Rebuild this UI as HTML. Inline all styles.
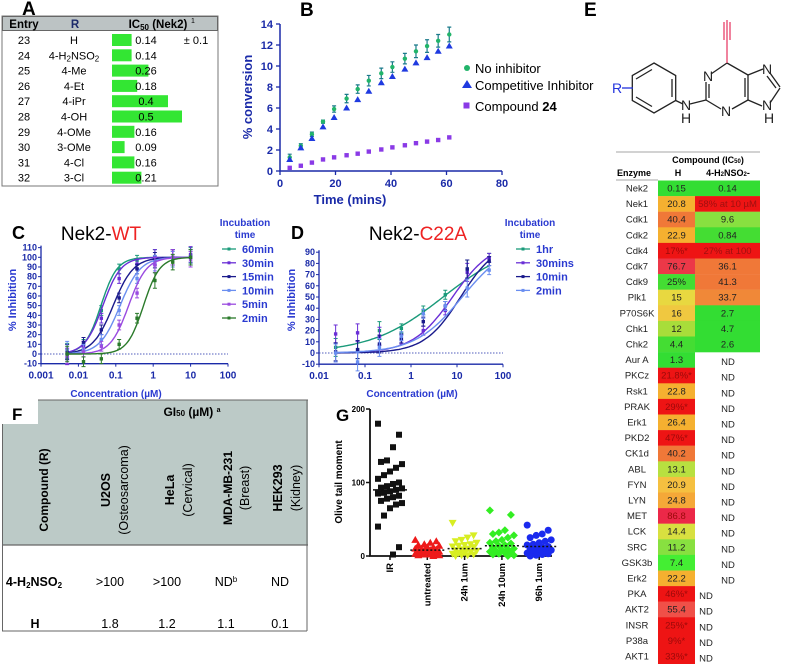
<!DOCTYPE html>
<html><head><meta charset="utf-8"><style>
html,body{margin:0;padding:0;background:#fff;}
svg{display:block;font-family:"Liberation Sans",sans-serif;}
</style></head><body>
<svg id="fig" width="788" height="664" viewBox="0 0 788 664" xmlns="http://www.w3.org/2000/svg">
<text x="22" y="15" font-size="19" font-weight="bold">A</text>
<text x="300" y="16" font-size="19" font-weight="bold">B</text>
<text x="12" y="239" font-size="18" font-weight="bold">C</text>
<text x="291" y="239" font-size="18" font-weight="bold">D</text>
<text x="584" y="16" font-size="19" font-weight="bold">E</text>
<text x="336" y="421" font-size="17" font-weight="bold">G</text>

<g>
<rect x="2" y="16" width="216" height="170" fill="#fff" stroke="#777" stroke-width="1"/>
<rect x="2.5" y="16.5" width="215" height="14" fill="#bcc3c4" stroke="#666"/>
<text x="24" y="28" font-size="11.5" font-weight="bold" text-anchor="middle">Entry</text>
<text x="75" y="28" font-size="11.5" font-weight="bold" text-anchor="middle" fill="#1c2a6a">R</text>
<text x="158" y="28" font-size="11.5" font-weight="bold" text-anchor="middle">IC<tspan font-size="8" dy="2">50</tspan><tspan dy="-2"> (Nek2)</tspan></text>
<text x="191" y="23" font-size="7">1</text>
<text x="196" y="44" font-size="11" text-anchor="middle">± 0.1</text>
<g id="aRows"></g>
</g>

<g id="panelB"></g>
<g id="panelC"></g>
<g id="panelD"></g>

<g stroke="#222" stroke-width="1.3" fill="none">
<polygon points="654,63 675.7,75.5 675.7,100.5 654,113 632.3,100.5 632.3,75.5"/>
<line x1="636" y1="79" x2="652" y2="69.5"/><line x1="672" y1="79" x2="672" y2="97"/><line x1="636" y1="97" x2="652" y2="106.5"/>
<line x1="675.7" y1="100.5" x2="683" y2="104"/>
<line x1="690" y1="104" x2="706" y2="100"/>
<line x1="706" y1="100" x2="706" y2="82"/><line x1="709" y1="98" x2="709" y2="84"/>
<line x1="711" y1="74" x2="727" y2="63"/>
<line x1="727" y1="63" x2="748" y2="75"/>
<line x1="748" y1="75" x2="748" y2="100"/><line x1="745" y1="78" x2="745" y2="97"/>
<line x1="748" y1="100" x2="732" y2="109"/>
<line x1="706" y1="100" x2="721" y2="109"/>
<line x1="748" y1="75" x2="763" y2="69"/>
<line x1="770" y1="73" x2="780" y2="87"/><line x1="767" y1="76" x2="776" y2="88"/>
<line x1="780" y1="88" x2="770" y2="103"/>
<line x1="748" y1="100" x2="762" y2="106"/>
<line x1="622" y1="88" x2="633" y2="88" stroke="#2233dd"/>
<line x1="727" y1="63" x2="727" y2="20" stroke="#e8406a"/>
<line x1="724" y1="22" x2="724" y2="40" stroke="#e8406a"/><line x1="730" y1="22" x2="730" y2="40" stroke="#e8406a"/>
</g>
<g font-size="14" fill="#222">
<text x="612" y="93" fill="#2233dd">R</text>
<text x="681" y="110">N</text><text x="681" y="123">H</text>
<text x="703" y="81">N</text><text x="721" y="116">N</text>
<text x="762" y="74">N</text><text x="762" y="110">N</text><text x="764" y="123">H</text>
</g>

<g id="tableE">
<line x1="616" y1="152" x2="760" y2="152" stroke="#888" stroke-width="0.8"/>
<text x="708" y="163" font-size="9" font-weight="bold" text-anchor="middle">Compound (IC<tspan font-size="6">50</tspan>)</text>
<text x="634" y="176" font-size="9" font-weight="bold" text-anchor="middle">Enzyme</text>
<text x="678" y="176" font-size="9" font-weight="bold" text-anchor="middle">H</text>
<text x="728" y="176" font-size="9" font-weight="bold" text-anchor="middle">4-H<tspan font-size="6">2</tspan>NSO<tspan font-size="6">2</tspan>-</text>
<line x1="616" y1="180" x2="658" y2="180" stroke="#888" stroke-width="0.8"/>
</g>

<g>
<rect x="38" y="400" width="270" height="25" fill="#bccac7"/>
<rect x="2" y="424" width="306" height="121" fill="#bccac7"/>
<line x1="2" y1="545" x2="308" y2="545" stroke="#666" stroke-width="1.2"/>
<line x1="2.5" y1="424" x2="2.5" y2="631" stroke="#666"/>
<line x1="307" y1="400" x2="307" y2="631" stroke="#666"/>
<line x1="2" y1="631" x2="307" y2="631" stroke="#666"/>
<line x1="38" y1="400" x2="308" y2="400" stroke="#666"/>
<text x="12" y="420" font-size="17" font-weight="bold">F</text>
<text x="192" y="416" font-size="12" font-weight="bold" text-anchor="middle">GI<tspan font-size="8">50</tspan> (µM) <tspan font-size="7" dy="-4">a</tspan></text>
<text transform="translate(48,490) rotate(-90)" font-size="12" font-weight="bold" text-anchor="middle">Compound (R)</text>
<text transform="translate(110,490) rotate(-90)" font-size="12.5" font-weight="bold" text-anchor="middle">U2OS</text>
<text transform="translate(128,490) rotate(-90)" font-size="12.5" text-anchor="middle">(Osteosarcoma)</text>
<text transform="translate(174,490) rotate(-90)" font-size="12.5" font-weight="bold" text-anchor="middle">HeLa</text>
<text transform="translate(192,490) rotate(-90)" font-size="12.5" text-anchor="middle">(Cervical)</text>
<text transform="translate(232,488) rotate(-90)" font-size="12" font-weight="bold" text-anchor="middle">MDA-MB-231</text>
<text transform="translate(249,488) rotate(-90)" font-size="12.5" text-anchor="middle">(Breast)</text>
<text transform="translate(282,488) rotate(-90)" font-size="12.5" font-weight="bold" text-anchor="middle">HEK293</text>
<text transform="translate(300,488) rotate(-90)" font-size="12.5" text-anchor="middle">(Kidney)</text>
<g font-size="12.5" text-anchor="middle">
<text x="34" y="586" font-weight="bold">4-H<tspan font-size="8" dy="2">2</tspan><tspan dy="-2">NSO</tspan><tspan font-size="8" dy="2">2</tspan></text>
<text x="110" y="586">&gt;100</text>
<text x="167" y="586">&gt;100</text>
<text x="226" y="586">ND<tspan font-size="8" dy="-4">b</tspan></text>
<text x="280" y="586">ND</text>
<text x="35" y="628" font-weight="bold">H</text>
<text x="110" y="628">1.8</text>
<text x="167" y="628">1.2</text>
<text x="226" y="628">1.1</text>
<text x="280" y="628">0.1</text>
</g>
</g>

<g id="panelG"></g>
</svg>
<script>
const NS="http://www.w3.org/2000/svg";
function mk(tag,attrs,parent,txt){const e=document.createElementNS(NS,tag);for(const k in attrs)e.setAttribute(k,attrs[k]);if(txt!==undefined)e.textContent=txt;parent.appendChild(e);return e;}

const aEntries=["23","24","25","26","27","28","29","30","31","32"];
const aR=["H","4-H2NSO2","4-Me","4-Et","4-iPr","4-OH","4-OMe","3-OMe","4-Cl","3-Cl"];
const aVals=[0.14,0.14,0.26,0.18,0.4,0.5,0.16,0.09,0.16,0.21];
const aLabels=["0.14","0.14","0.26","0.18","0.4","0.5","0.16","0.09","0.16","0.21"];

const bTimes=[3.5,7.5,11.5,15.5,19.5,24,28,32,36.5,40.5,45,49,53,57,61];
const bNoInh=[1.3,2.4,3.5,4.7,5.9,6.9,7.8,8.6,9.3,9.9,10.7,11.4,11.9,12.4,13.0];
const bNoInhErr=[0.3,0.2,0.2,0.15,0.3,0.4,0.4,0.5,0.5,0.5,0.5,0.6,0.6,0.6,0.7];
const bComp=[1.1,2.2,3.1,4.2,5.1,6.0,6.8,7.6,8.4,9.0,9.7,10.3,10.8,11.4,11.9];
const bCpd24=[0.3,0.5,0.8,1.1,1.3,1.5,1.65,1.85,2.05,2.25,2.45,2.65,2.8,2.95,3.2];
const bXTicks=[0,20,40,60,80];
const bYTicks=[0,2,4,6,8,10,12,14];

const cConc=[0.005,0.0137,0.041,0.123,0.37,1.11,3.33,10];
const cSeries=["60min","30min","15min","10min","5min","2min"];
const c60=[3,10,45,88,97,100,100,102];
const c30=[-3,8,37,78,93,100,100,103];
const c15=[2,12,25,58,88,97,100,100];
const c10=[5,5,15,45,78,94,98,100];
const c5=[-2,2,8,30,63,92,100,98];
const c2=[0,-8,-5,10,37,76,95,100];
const cIC50=[0.04,0.045,0.085,0.13,0.22,0.55];
const cHill=[2,1.8,1.6,1.6,1.8,2];
const cXTicks=[0.001,0.01,0.1,1,10,100];
const cXLabels=["0.001","0.01","0.1","1","10","100"];
const cYTicks=[-10,0,10,20,30,40,50,60,70,80,90,100,110];

const dConc=[0.023,0.069,0.206,0.617,1.85,5.56,16.7,50];
const dSeries=["1hr","30mins","10min","2min"];
const d1hr=[5,3,20,22,38,52,75,85];
const d30=[17,18,15,12,20,38,72,85];
const d10=[1,3,8,13,28,42,75,82];
const d2=[0,-8,5,15,35,42,58,74];
const dIC50=[5,8,12,13];
const dHill=[0.55,1.0,1.1,0.85];
const dXTicks=[0.01,0.1,1,10,100];
const dXLabels=["0.01","0.1","1","10","100"];
const dYTicks=[-10,0,10,20,30,40,50,60,70,80,90];

const eEnzymes=["Nek2","Nek1","Cdk1","Cdk2","Cdk4","Cdk7","Cdk9","Plk1","P70S6K","Chk1","Chk2","Aur A","PKCz","Rsk1","PRAK","Erk1","PKD2","CK1d","ABL","FYN","LYN","MET","LCK","SRC","GSK3b","Erk2","PKA","AKT2","INSR","P38a","AKT1"];
const eH=["0.15","20.8","40.4","22.9","17%*","76.7","25%","15","16","12","4.4","1.3","21.8%*","22.8","29%*","26.4","47%*","40.2","13.1","20.9","24.8","86.8","14.4","11.2","7.4","22.2","46%*","55.4","25%*","9%*","33%*"];
const eHColor=["#33dd33","#f5b030","#f07838","#f5b030","#ee1414","#ec3848","#44dd33","#e8d840","#f0c840","#a8dd3a","#44dd33","#33dd33","#ee1414","#f5b030","#ee1414","#f5b030","#ee1414","#f07838","#b8e040","#f5c040","#f5a838","#ec2848","#d8e040","#88e040","#44ee33","#f5b030","#ee1414","#f05048","#ee1414","#ee1414","#ee1414"];
const eS=["0.14","58% at 10 µM","9.6","0.84","27% at 100","36.1","41.3","33.7","2.7","4.7","2.6"];
const eSColor=["#33dd33","#ee1414","#88e040","#44dd33","#ee1414","#f07838","#f07838","#f08838","#33dd33","#33dd33","#33dd33"];

const gCats=["IR","untreated","24h 1um","24h 10um","96h 1um"];
const gIR=[180,165,148,130,128,125,120,115,110,105,100,98,95,93,92,90,88,86,85,82,80,78,75,72,70,65,55,40,12,2];
const gUntr=[22,20,18,16,15,14,12,12,10,10,9,8,8,7,6,5,5,4,3,3,2,2,1,1,0];
const g24h1=[45,28,25,22,20,18,16,15,14,13,12,10,9,8,7,6,5,4,3,2,1,1,0];
const g24h10=[62,56,35,32,30,28,25,22,20,18,17,15,14,12,10,9,8,7,6,5,4,3,2,1,0];
const g96h1=[42,35,30,28,25,22,20,18,16,15,13,12,10,9,8,7,6,5,4,3,2,1,0];
const gMeans=[90,8,10,14,13];
const gYTicks=[0,100,200];

(function(){
  const g=document.getElementById('aRows');
  const yRow=i=>40+i*15.3;
  const xBar=v=>112+v*140;
  aEntries.forEach((en,i)=>{
    const y=yRow(i);
    const bar=mk('rect',{x:112,y:y-6,width:xBar(aVals[i])-112,height:12,fill:'#33e633'},g);
    
    
    const t1=mk('text',{x:24,y:y+4,'font-size':11,'text-anchor':'middle'},g,en);
    
    
    const t2=mk('text',{x:74,y:y+4,'font-size':11,'text-anchor':'middle'},g);
    
    
    let sub=false;
    aR[i].split('').forEach((ch,k)=>{
      const isSub=/[0-9]/.test(ch)&&k>1;
      mk('tspan',isSub?{'font-size':8,dy:sub?0:2}:{dy:sub?-2:0},t2,ch);
      sub=isSub;
    });
    const t3=mk('text',{x:146,y:y+4,'font-size':11,'text-anchor':'middle'},g,aLabels[i]);
    
    
  });
})();

(function(){
  const g=document.getElementById('panelB');
  const xB=t=>280+t*(222/80), yB=v=>171-v*10.5;
  const ax='#1a2aa8';
  const axes=mk('path',{d:`M280,${yB(14)} V171 H502`,stroke:ax,'stroke-width':1.5,fill:'none'},g);
  
  
  bYTicks.forEach(v=>{
    mk('line',{x1:276,x2:280,y1:yB(v),y2:yB(v),stroke:ax,'stroke-width':1.3},g);
    const t=mk('text',{x:273,y:yB(v)+4,'font-size':11,'font-weight':'bold','text-anchor':'end',fill:ax},g,v);
    
    
  });
  bXTicks.forEach(v=>{
    mk('line',{x1:xB(v),x2:xB(v),y1:171,y2:175,stroke:ax,'stroke-width':1.3},g);
    const t=mk('text',{x:xB(v),y:187,'font-size':11,'font-weight':'bold','text-anchor':'middle',fill:ax},g,v);
    
    
  });
  const yt=mk('text',{transform:'translate(252,97) rotate(-90)','font-size':13,'font-weight':'bold','text-anchor':'middle',fill:ax},g,'% conversion');
  
  
  const xt=mk('text',{x:350,y:204,'font-size':13,'font-weight':'bold','text-anchor':'middle',fill:ax},g,'Time (mins)');
  
  
  bTimes.forEach((t,i)=>{
    const x=xB(t);
    const eb=mk('path',{d:`M${x},${yB(bNoInh[i]+bNoInhErr[i])}V${yB(bNoInh[i]-bNoInhErr[i])}M${x-2},${yB(bNoInh[i]+bNoInhErr[i])}h4M${x-2},${yB(bNoInh[i]-bNoInhErr[i])}h4`,stroke:'#1a7a8a','stroke-width':1.2,fill:'none'},g);
    
    
    const c=mk('circle',{cx:x,cy:yB(bNoInh[i]),r:2.2,fill:'#22b46a'},g);
    
    
    const yb=yB(bComp[i]);
    const tr=mk('polygon',{points:`${x},${yb-3.5} ${x-3.5},${yb+2.5} ${x+3.5},${yb+2.5}`,fill:'#1f3ae0'},g);
    
    
    const sq=mk('rect',{x:x-2.2,y:yB(bCpd24[i])-2.2,width:4.4,height:4.4,fill:'#8a3ae6'},g);
    
    
  });
  const lg=mk('g',{},g);
  
  
  mk('circle',{cx:467,cy:68,r:3,fill:'#22b46a'},lg);
  mk('text',{x:475,y:73,'font-size':13},lg,'No inhibitor');
  mk('polygon',{points:'467,80 462,88 472,88',fill:'#1f3ae0'},lg);
  mk('text',{x:475,y:90,'font-size':13},lg,'Competitive Inhibitor');
  mk('rect',{x:463.5,y:102.5,width:6,height:6,fill:'#8a3ae6'},lg);
  const lt=mk('text',{x:475,y:111,'font-size':13},lg,'Compound ');
  mk('tspan',{'font-weight':'bold'},lt,'24');
})();

function doseChart(gid,conc,seriesVals,names,colors,ic50,hill,xf,yf,xTicks,xLabels,yTicks,opts){
  const g=document.getElementById(gid);
  const ax='#1a2aa8';
  mk('line',{x1:opts.x0,x2:opts.x1,y1:yf(0),y2:yf(0),stroke:ax,'stroke-width':0.8,'stroke-dasharray':'1.5,1.5'},g);
  const axes=mk('path',{d:`M${opts.x0},${yf(yTicks[yTicks.length-1])-2} V${yf(yTicks[0])} H${opts.x1}`,stroke:ax,'stroke-width':1.3,fill:'none'},g);
  
  
  yTicks.forEach(v=>{
    mk('line',{x1:opts.x0-3,x2:opts.x0,y1:yf(v),y2:yf(v),stroke:ax},g);
    const t=mk('text',{x:opts.x0-4,y:yf(v)+3,'font-size':9,'font-weight':'bold','text-anchor':'end',fill:ax},g,v);
    
    
  });
  xTicks.forEach((v,i)=>{
    mk('line',{x1:xf(v),x2:xf(v),y1:yf(yTicks[0]),y2:yf(yTicks[0])+3,stroke:ax},g);
    const t=mk('text',{x:xf(v),y:yf(yTicks[0])+15,'font-size':10,'font-weight':'bold','text-anchor':'middle',fill:ax},g,xLabels[i]);
    
    
  });
  const xt=mk('text',{x:opts.xTitle,y:397,'font-size':10,'font-weight':'bold','text-anchor':'middle',fill:'#2a3ad0'},g,'Concentration  (µM)');
  
  
  const yt=mk('text',{transform:`translate(${opts.yTitleX},${opts.yTitleY}) rotate(-90)`,'font-size':11,'font-weight':'bold','text-anchor':'middle',fill:'#2a3ad0'},g,'% Inhibition');
  
  
  const lo=Math.log10(conc[0]),hi=Math.log10(conc[conc.length-1]);
  seriesVals.forEach((vals,s)=>{
    let d='';
    for(let k=0;k<=80;k++){const c=Math.pow(10,lo+(hi-lo)*k/80);const v=100/(1+Math.pow(ic50[s]/c,hill[s]));d+=(k?'L':'M')+xf(c).toFixed(1)+','+yf(v).toFixed(1);}
    const p=mk('path',{d:d,stroke:colors[s],'stroke-width':1.4,fill:'none'},g);
    
    
    vals.forEach((v,i)=>{
      const x=xf(conc[i]),y=yf(v),e=opts.err(s,i);
      const eb=mk('path',{d:`M${x},${yf(v+e)}V${yf(v-e)}M${x-2},${yf(v+e)}h4M${x-2},${yf(v-e)}h4`,stroke:colors[s],'stroke-width':1,fill:'none'},g);
      
      
      const r=mk('rect',{x:x-1.7,y:y-1.7,width:3.4,height:3.4,fill:colors[s]},g);
      
      
    });
    const ly=opts.legY+s*13.8;
    const ll=mk('line',{x1:opts.legX,x2:opts.legX+14,y1:ly,y2:ly,stroke:colors[s],'stroke-width':1.3},g);
    
    
    mk('rect',{x:opts.legX+5.5,y:ly-1.5,width:3,height:3,fill:colors[s]},g);
    const lt=mk('text',{x:opts.legX+20,y:ly+4,'font-size':11,'font-weight':'bold',fill:'#2a3ad0'},g,names[s]);
    
    
  });
  const h1=mk('text',{x:opts.legHX,y:226,'font-size':10,'font-weight':'bold','text-anchor':'middle',fill:'#2a3ad0'},g,'Incubation');
  
  
  mk('text',{x:opts.legHX,y:238,'font-size':10,'font-weight':'bold','text-anchor':'middle',fill:'#2a3ad0'},g,'time');
  const tt=mk('text',{x:opts.titleX,y:240,'font-size':19,'text-anchor':'middle'},g,'Nek2-');
  mk('tspan',{fill:'#ee2222'},tt,opts.titleRed);
  
  
}

doseChart('panelC',cConc,[c60,c30,c15,c10,c5,c2],cSeries,
  ['#1a9a7a','#6a2ed6','#1a1a8c','#6a8ef0','#9a4be0','#2a7a2a'],cIC50,cHill,
  c=>41+(Math.log10(c)+3)*37.4, v=>354-v*0.967,cXTicks,cXLabels,cYTicks,
  {x0:41,x1:228,xTitle:116,yTitleX:16,yTitleY:300,legX:222,legY:249,legHX:245,titleX:101,titleRed:'WT',
   err:(s,i)=>(i===0||i>=5)?8:5});

doseChart('panelD',dConc,[d1hr,d30,d10,d2],dSeries,
  ['#1a9a7a','#6a2ed6','#1a1a8c','#6a8ef0'],dIC50,dHill,
  c=>319+(Math.log10(c)+2)*46, v=>353-v*1.12,dXTicks,dXLabels,dYTicks,
  {x0:319,x1:503,xTitle:412,yTitleX:295,yTitleY:300,legX:516,legY:249,legHX:530,titleX:418,titleRed:'C22A',
   err:(s,i)=>(i<=2||i===6)?8:4});

(function(){
  const g=document.getElementById('tableE');
  const yTop=i=>180.5+i*15.6;
  eEnzymes.forEach((en,i)=>{
    const y=yTop(i);
    const t=mk('text',{x:637,y:y+11,'font-size':9.5,'text-anchor':'middle',fill:'#222'},g,en);
    
    
    const c=mk('rect',{x:658,y:y,width:37,height:15.8,fill:eHColor[i]},g);
    
    
    const red=eHColor[i]==='#ee1414'||eHColor[i]==='#ec2848';
    mk('text',{x:676.5,y:y+11,'font-size':9.5,'text-anchor':'middle',fill:red?'#9a0a0a':'#222'},g,eH[i]);
    if(i<eS.length){
      const c2=mk('rect',{x:695,y:y,width:65,height:15.8,fill:eSColor[i]},g);
      
      
      mk('text',{x:727.5,y:y+11,'font-size':9.5,'text-anchor':'middle',fill:eSColor[i]==='#ee1414'?'#a01010':'#222'},g,eS[i]);
    } else {
      const nx=i>=26?706:728;
      const n=mk('text',{x:nx,y:y+13,'font-size':9.5,'text-anchor':'middle',fill:'#222'},g,'ND');
      
      
    }
  });
})();

(function(){
  const g=document.getElementById('panelG');
  const yG=v=>556-v*0.735;
  const xG=i=>390+i*37.3;
  const axes=mk('path',{d:`M370,${yG(200)} V556 H552`,stroke:'#111','stroke-width':1.8,fill:'none'},g);
  
  
  gYTicks.forEach(v=>{
    mk('line',{x1:366,x2:370,y1:yG(v),y2:yG(v),stroke:'#111','stroke-width':1.5},g);
    const t=mk('text',{x:365,y:yG(v)+3,'font-size':8,'font-weight':'bold','text-anchor':'end'},g,v);
    
    
  });
  const yt=mk('text',{transform:`translate(342,482) rotate(-90)`,'font-size':10,'font-weight':'bold','text-anchor':'middle'},g,'Olive tail moment');
  
  
  const sets=[gIR,gUntr,g24h1,g24h10,g96h1];
  const cols=['#111','#ee1a1a','#d8ee22','#33ee22','#1a2aee'];
  sets.forEach((vals,s)=>{
    const cx=xG(s);
    mk('line',{x1:cx,x2:cx,y1:556,y2:560,stroke:'#111','stroke-width':1.5},g);
    vals.forEach((v,i)=>{
      const x=cx+(((i*7)%9)-4)*3, y=yG(v);
      let e;
      if(s===0) e=mk('rect',{x:x-3,y:y-3,width:6,height:6,fill:cols[s]},g);
      else if(s===1) e=mk('polygon',{points:`${x},${y-4} ${x-4},${y+3} ${x+4},${y+3}`,fill:cols[s]},g);
      else if(s===2) e=mk('polygon',{points:`${x},${y+4} ${x-4},${y-3} ${x+4},${y-3}`,fill:cols[s]},g);
      else if(s===3) e=mk('polygon',{points:`${x},${y-4} ${x+4},${y} ${x},${y+4} ${x-4},${y}`,fill:cols[s]},g);
      else e=mk('circle',{cx:x,cy:y,r:3.5,fill:cols[s]},g);
      
      
    });
    const m=mk('line',{x1:cx-17,x2:cx+17,y1:yG(gMeans[s]),y2:yG(gMeans[s]),stroke:'#111','stroke-width':1.5,'stroke-dasharray':s?'2,2':'none'},g);
    
    
    const t=mk('text',{transform:`translate(${cx+3},563) rotate(-90)`,'font-size':9.5,'font-weight':'bold','text-anchor':'end'},g,gCats[s]);
    
    
  });
})();
</script>
</body></html>
